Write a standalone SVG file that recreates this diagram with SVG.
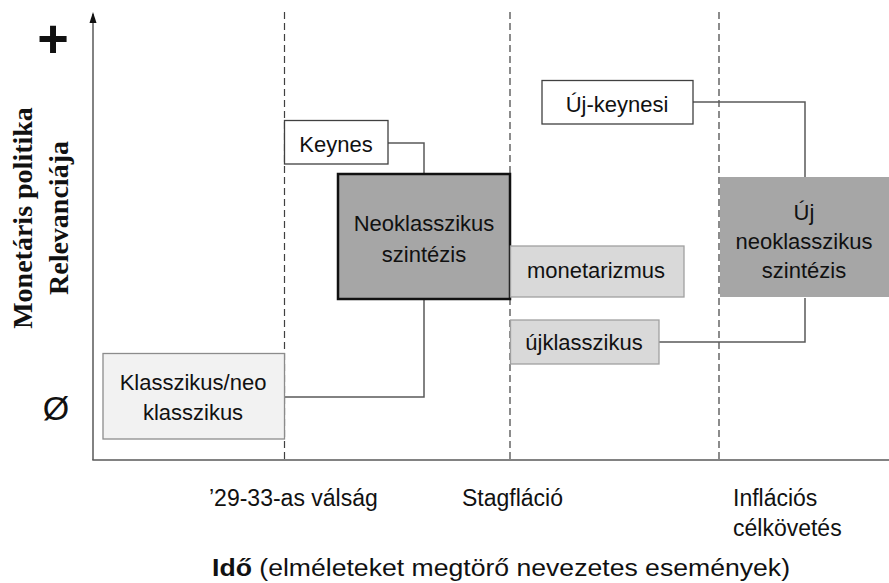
<svg xmlns="http://www.w3.org/2000/svg" width="889" height="583" viewBox="0 0 889 583">
<defs>
<style>
.t{font-family:"Liberation Sans",Arial,sans-serif;font-size:22px;fill:#111;text-anchor:middle}
.b{font-family:"Liberation Sans",Arial,sans-serif;font-size:23px;fill:#111}
.y{font-family:"Liberation Serif","Times New Roman",serif;font-size:28px;font-weight:bold;fill:#111;text-anchor:middle}
.axis{stroke:#595959;stroke-width:1.5;fill:none}
.dash{stroke:#404040;stroke-width:1.2;stroke-dasharray:7,4;fill:none}
.conn{stroke:#595959;stroke-width:1.5;fill:none}
.white{fill:#fff;stroke:#404040;stroke-width:1.3}
.light{fill:#f2f2f2;stroke:#8c8c8c;stroke-width:1.3}
.mid{fill:#d9d9d9;stroke:#a0a0a0;stroke-width:1.3}
.dark{fill:#a6a6a6}
</style>
</defs>
<rect width="889" height="583" fill="#fff"/>
<g id="axes">
<line class="axis" x1="93" y1="460" x2="93" y2="14"/>
<path d="M89.5,23 L93,12 L96.5,23 Z" fill="#111"/>
<line class="axis" x1="92.3" y1="460" x2="889" y2="460"/>
<line class="dash" x1="284.5" y1="12" x2="284.5" y2="460"/>
<line class="dash" x1="510" y1="12" x2="510" y2="460"/>
<line class="dash" x1="719" y1="12" x2="719" y2="460"/>
</g>
<g id="connectors">
<polyline class="conn" points="388,143 424,143 424,174"/>
<polyline class="conn" points="424,299 424,397 284.5,397"/>
<polyline class="conn" points="693,102 805,102 805,177"/>
<polyline class="conn" points="659,342 805,342 805,298"/>
</g>
<g id="keynes">
<rect class="white" x="284.5" y="120.5" width="103.5" height="43.5"/>
<text class="t" x="336" y="152">Keynes</text>
</g>
<g id="neoklasszikus">
<rect x="338" y="174" width="172" height="125" fill="#a6a6a6" stroke="#111" stroke-width="2.5"/>
<text class="t" x="424" y="231">Neoklasszikus</text>
<text class="t" x="424" y="262">szintézis</text>
</g>
<g id="klasszikus">
<rect class="light" x="103" y="353.5" width="181.5" height="85.5"/>
<text class="t" x="193" y="390">Klasszikus/neo</text>
<text class="t" x="193" y="420">klasszikus</text>
</g>
<g id="monetarizmus">
<rect class="mid" x="510.5" y="246" width="173.5" height="51"/>
<text class="t" x="596" y="278">monetarizmus</text>
</g>
<g id="ujklasszikus">
<rect class="mid" x="510.5" y="320" width="148.5" height="44"/>
<text class="t" x="584" y="350">újklasszikus</text>
</g>
<g id="ujkeynesi">
<rect class="white" x="542" y="80.5" width="151" height="43.5"/>
<text class="t" x="617" y="112">Új-keynesi</text>
</g>
<g id="ujneoklasszikus">
<rect class="dark" x="720" y="177" width="169" height="120"/>
<text class="t" x="804" y="220">Új</text>
<text class="t" x="804" y="249">neoklasszikus</text>
<text class="t" x="804" y="278">szintézis</text>
</g>
<g id="labels">
<text x="53" y="57" font-family="Liberation Sans, Arial, sans-serif" font-size="54" font-weight="bold" fill="#111" text-anchor="middle">+</text>
<text x="56" y="420" font-family="Liberation Sans, Arial, sans-serif" font-size="34" fill="#111" text-anchor="middle">Ø</text>
<text class="y" transform="translate(32,218) rotate(-90)">Monetáris politika</text>
<text class="y" transform="translate(68,218) rotate(-90)">Relevanciája</text>
<text class="b" x="209" y="506">’29-33-as válság</text>
<text class="b" x="462" y="506">Stagfláció</text>
<text class="b" x="733" y="506">Inflációs</text>
<text class="b" x="733" y="536">célkövetés</text>
<text class="b" x="212" y="576" font-size="27" textLength="578" lengthAdjust="spacingAndGlyphs"><tspan font-weight="bold">Idő</tspan> (elméleteket megtörő nevezetes események)</text>
</g>
</svg>
